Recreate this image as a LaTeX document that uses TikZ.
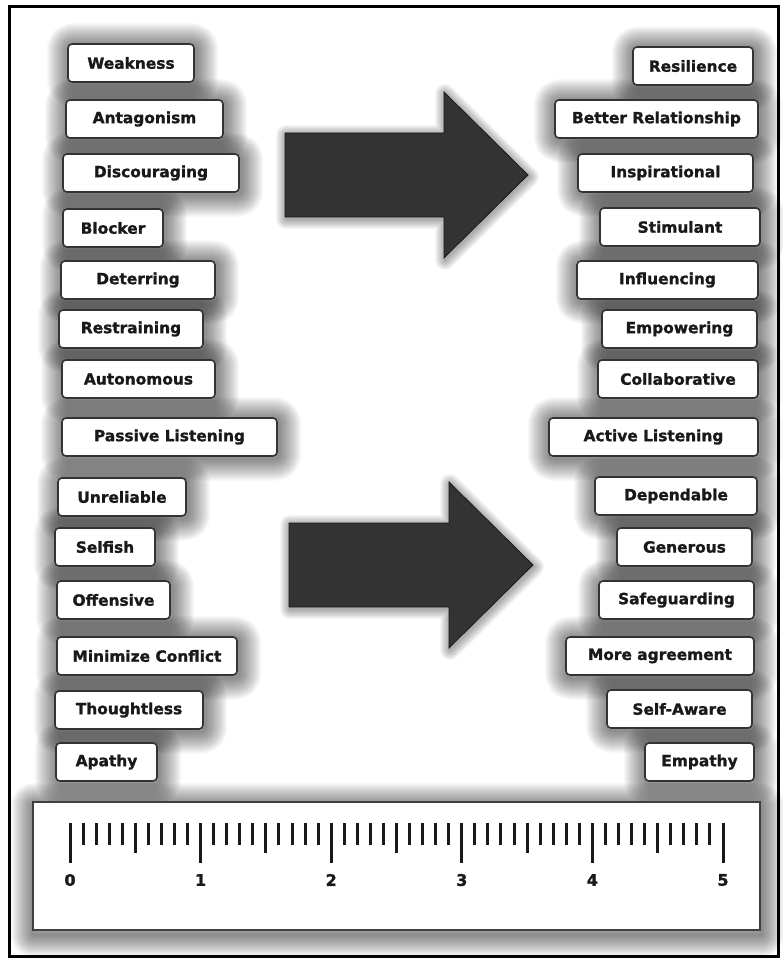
\documentclass[tikz,border=0pt]{standalone}
\usepackage{fontspec}
\setmainfont{DejaVu Sans}
\newfontfamily\heavyfont{DejaVu Sans}[BoldFeatures={FakeBold=1.3}]

\pgfdeclarelayer{glow}
\pgfsetlayers{glow,main}

\tikzset{
  tag/.style={draw=black!80, line width=1.6pt, rounded corners=4pt, fill=white,
    text=black!90, font=\heavyfont\bfseries\fontsize{15.4}{16}\selectfont,
    inner sep=0pt, minimum height=38pt},
  glowline/.style={draw=black, line join=round, opacity=0.022},
  bigarrow/.style={fill=black!80, draw=black!90, line width=0.8pt, line join=miter},
  tick/.style={line width=3pt, black!90},
  ticklabel/.style={font=\heavyfont\bfseries\fontsize{16}{16}\selectfont, text=black!90, inner sep=0pt},
}

% one labelled box: name, left x, right x, centre y, text
\newcommand\tagbox[5]{%
  \node[tag, minimum width={#3-#2}] (#1) at ({(#2+#3)/2},#4) {#5};}

% soft halo round a named box, slightly offset down and right
\newcommand\boxglow[1]{%
  \foreach \gw in {2,4,...,44}{%
    \path[glowline, line width=\gw pt, rounded corners=4pt]
      ([xshift=1.5pt,yshift=-2pt]#1.south west) rectangle ([xshift=1.5pt,yshift=-2pt]#1.north east);}}

\begin{document}
\begin{tikzpicture}[x=1pt, y=-1pt]
\useasboundingbox (0,0) rectangle (783,960);

% outer frame
\draw[line width=3pt, black] (9,7) rectangle (778,956);

% left column
\tagbox{l1}{68}{194}{63}{Weakness}
\tagbox{l2}{66}{223}{119}{Antagonism}
\tagbox{l3}{63}{239}{173}{Discouraging}
\tagbox{l4}{63}{163}{228}{Blocker}
\tagbox{l5}{61}{215}{280}{Deterring}
\tagbox{l6}{59}{203}{329}{Restraining}
\tagbox{l7}{62}{215}{379}{Autonomous}
\tagbox{l8}{62}{277}{437}{Passive Listening}
\tagbox{l9}{58}{186}{497}{Unreliable}
\tagbox{l10}{55}{155}{547}{Selfish}
\tagbox{l11}{57}{170}{600}{Offensive}
\tagbox{l12}{57}{237}{656}{Minimize Conflict}
\tagbox{l13}{55}{203}{710}{Thoughtless}
\tagbox{l14}{56}{157}{762}{Apathy}

% right column
\tagbox{r1}{633}{753}{66}{Resilience}
\tagbox{r2}{555}{758}{119}{Better Relationship}
\tagbox{r3}{578}{753}{173}{Inspirational}
\tagbox{r4}{600}{760}{227}{Stimulant}
\tagbox{r5}{577}{758}{280}{Influencing}
\tagbox{r6}{602}{757}{329}{Empowering}
\tagbox{r7}{598}{758}{379}{Collaborative}
\tagbox{r8}{549}{758}{437}{Active Listening}
\tagbox{r9}{595}{757}{496}{Dependable}
\tagbox{r10}{617}{752}{547}{Generous}
\tagbox{r11}{599}{754}{600}{Safeguarding}
\tagbox{r12}{566}{754}{656}{More agreement}
\tagbox{r13}{607}{752}{709}{Self-Aware}
\tagbox{r14}{645}{754}{762}{Empathy}

% block arrows
\draw[bigarrow] (285,133) -- (444,133) -- (444,92) -- (528,175) -- (444,258)
  -- (444,217) -- (285,217) -- cycle;
\draw[bigarrow] (289,523) -- (449,523) -- (449,482) -- (533,565) -- (449,648)
  -- (449,607) -- (289,607) -- cycle;

% ruler
\node[draw=black!75, line width=1.5pt, fill=white, minimum width=727pt,
  minimum height=128pt, inner sep=0pt] (ruler) at (396.5,866) {};
\foreach \i in {0,...,50}{
  \pgfmathsetmacro\tx{70+13.06*\i}
  \pgfmathtruncatemacro\rm{mod(\i,10)}
  \pgfmathtruncatemacro\rf{mod(\i,5)}
  \ifnum\rm=0
    \draw[tick] (\tx,823) -- (\tx,863);
  \else\ifnum\rf=0
    \draw[tick] (\tx,823) -- (\tx,853);
  \else
    \draw[tick] (\tx,823) -- (\tx,845);
  \fi\fi
}
\foreach \k in {0,...,5}{
  \node[ticklabel] (n\k) at ({70+130.6*\k},880) {\k};
}

% white ground and halos behind everything
\begin{pgfonlayer}{glow}
  \fill[white] (0,0) rectangle (783,960);
  \foreach \n in {l1,l2,l3,l4,l5,l6,l7,l8,l9,l10,l11,l12,l13,l14,
                  r1,r2,r3,r4,r5,r6,r7,r8,r9,r10,r11,r12,r13,r14}{\boxglow{\n}}
  \foreach \gw in {2,4,...,44}{%
    \path[glowline, line width=\gw pt]
      ([xshift=1pt,yshift=-4pt]ruler.south west) rectangle ([xshift=1pt,yshift=-4pt]ruler.north east);}
  \foreach \gw in {2,4,...,20}{%
    \path[glowline, line width=\gw pt, opacity=0.035]
      (286,135) -- (445,135) -- (445,94) -- (529,177) -- (445,260) -- (445,219) -- (286,219) -- cycle;
    \path[glowline, line width=\gw pt, opacity=0.035]
      (290,525) -- (450,525) -- (450,484) -- (534,567) -- (450,650) -- (450,609) -- (290,609) -- cycle;}
\end{pgfonlayer}
\end{tikzpicture}
\end{document}
